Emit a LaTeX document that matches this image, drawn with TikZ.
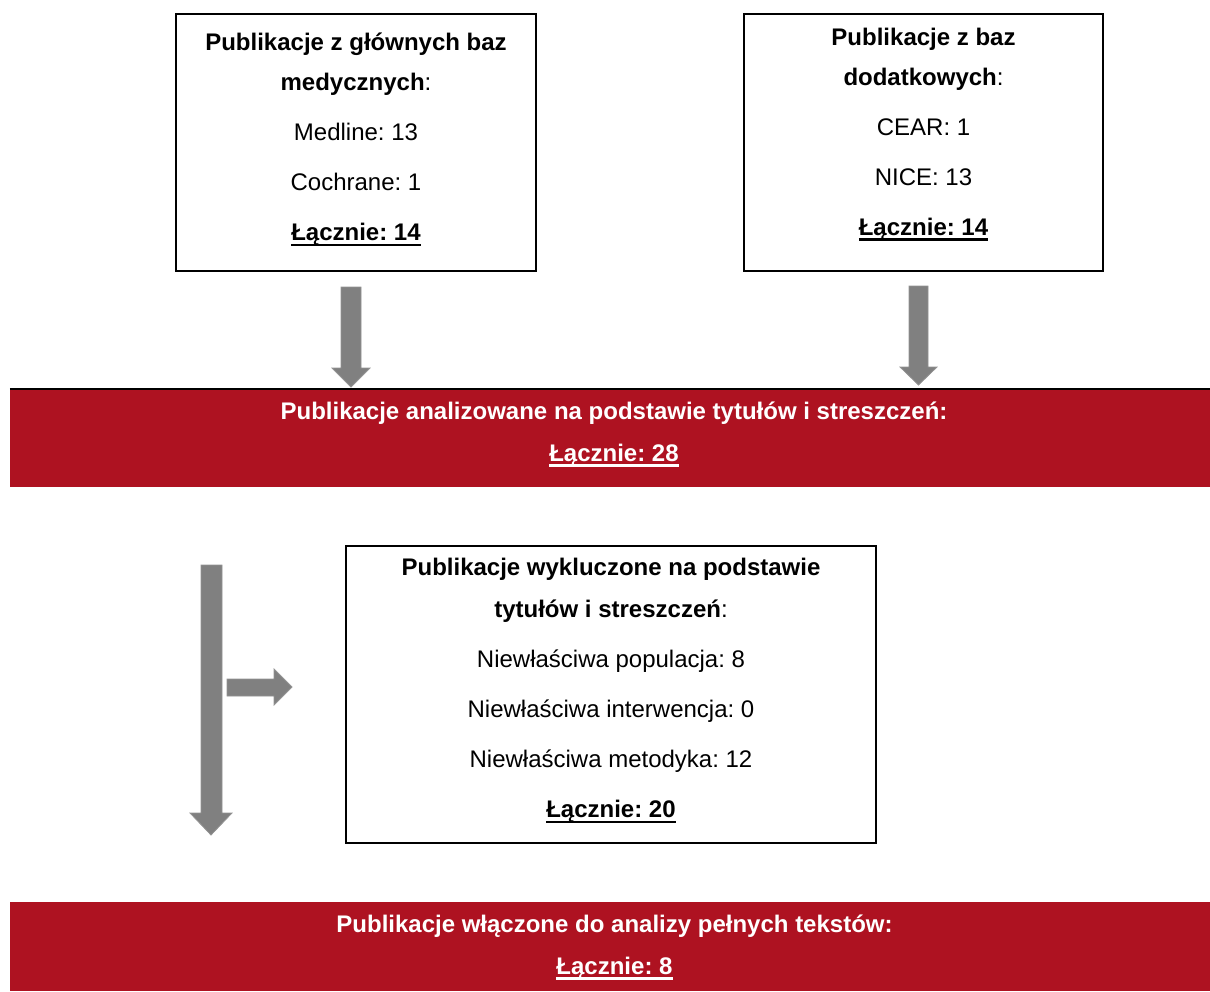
\documentclass[tikz,border=0pt]{standalone}
\usepackage{fontspec}
\setmainfont{Liberation Sans}
\frenchspacing
\definecolor{bandred}{RGB}{174,18,33}
\definecolor{arrowgray}{RGB}{128,128,128}
\newsavebox{\ulbox}
\newcommand\thickul[1]{\sbox{\ulbox}{#1}\leavevmode\rlap{\rule[-5.5pt]{\wd\ulbox}{2.5pt}}\usebox{\ulbox}}
\begin{document}
\begin{tikzpicture}[x=1pt,y=-1pt,
  box/.style={draw=black, line width=2pt, fill=white, inner sep=0pt},
  txt/.style={align=center, font=\fontsize{24}{40}\selectfont, inner sep=0pt},
  txtb/.style={align=center, font=\fontsize{24}{42}\selectfont, inner sep=0pt},
  band/.style={fill=bandred, inner sep=0pt},
  wtxt/.style={align=center, inner sep=0pt, text=white, font=\fontsize{24}{41.5}\selectfont\bfseries},
  garrow/.style={fill=arrowgray, draw=arrowgray!85!white, line width=0.8pt}]
\useasboundingbox (0,0) rectangle (1210,991);

% top boxes
\node[box, minimum width=360pt, minimum height=257pt] (b1) at (356,142.5) {};
\node[txt] (t1) at (356,139.5) {\textbf{Publikacje z głównych baz}\\ \textbf{medycznych}:\\[10pt] Medline: 13\\[10pt] Cochrane: 1\\[10pt] \textbf{\thickul{Łącznie: 14}}};

\node[box, minimum width=359pt, minimum height=257pt] (b2) at (923.5,142.5) {};
\node[txt] (t2) at (923.5,134.5) {\textbf{Publikacje z baz}\\ \textbf{dodatkowych}:\\[10pt] CEAR: 1\\[10pt] NICE: 13\\[10pt] \textbf{\thickul{Łącznie: 14}}};

% first band
\node[band, minimum width=1200pt, minimum height=98pt] (r1) at (610,438) {};
\draw[line width=2pt] (r1.north west) -- (r1.north east);
\node[wtxt] (w1) at (614,434.5) {Publikacje analizowane na podstawie tytułów i streszczeń:\\ \thickul{Łącznie: 28}};

% excluded box
\node[box, minimum width=530pt, minimum height=297pt] (b3) at (611,694.5) {};
\node[txtb] (t3) at (611,691) {\textbf{Publikacje wykluczone na podstawie}\\ \textbf{tytułów i streszczeń}:\\[8pt] Niewłaściwa populacja: 8\\[8pt] Niewłaściwa interwencja: 0\\[8pt] Niewłaściwa metodyka: 12\\[8pt] \textbf{\thickul{Łącznie: 20}}};

% second band
\node[band, minimum width=1200pt, minimum height=89pt] (r2) at (610,946.5) {};
\node[wtxt] (w2) at (614.5,947.5) {Publikacje włączone do analizy pełnych tekstów:\\ \thickul{Łącznie: 8}};

% block arrows
\filldraw[garrow] (341,287) -- (361,287) -- (361,368) -- (370,368) -- (351,387) -- (332,368) -- (341,368) -- cycle;
\filldraw[garrow] (909,286) -- (928,286) -- (928,367) -- (937,367) -- (918.5,385) -- (900,367) -- (909,367) -- cycle;
\filldraw[garrow] (201,565) -- (222,565) -- (222,813) -- (232,813) -- (211,835) -- (190,813) -- (201,813) -- cycle;
\filldraw[garrow] (227,679) -- (274,679) -- (274,669) -- (292,687) -- (274,705) -- (274,696) -- (227,696) -- cycle;
\end{tikzpicture}
\end{document}
